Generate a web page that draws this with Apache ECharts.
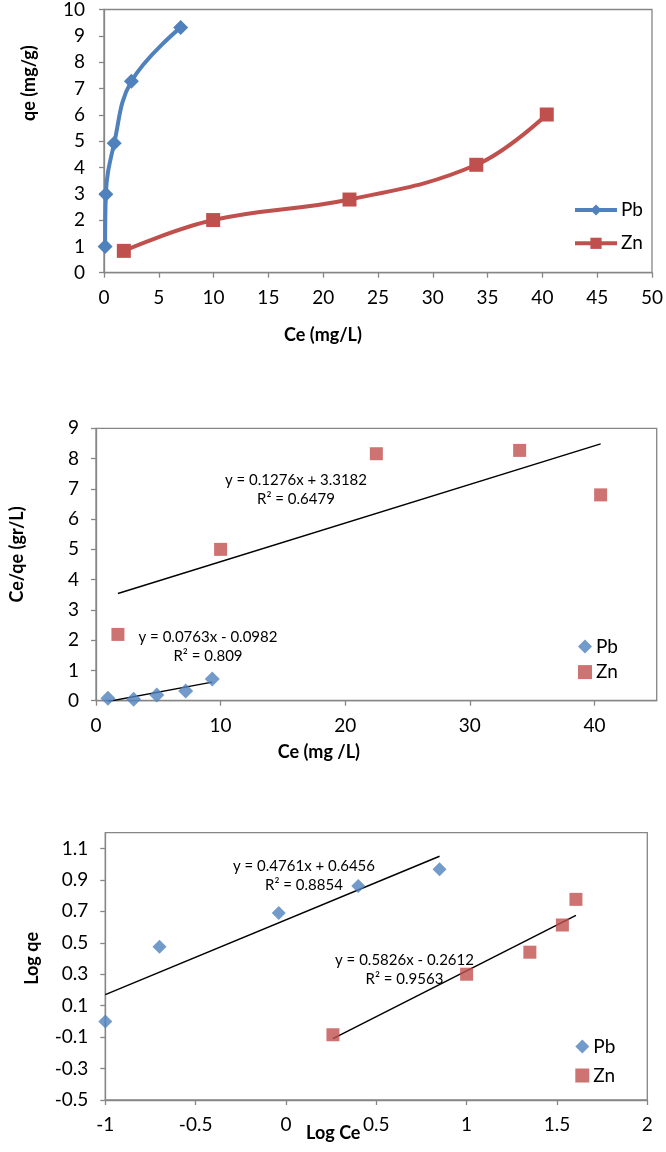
<!DOCTYPE html>
<html>
<head>
<meta charset="utf-8">
<script src="https://cdn.jsdelivr.net/npm/echarts@6/dist/echarts.min.js"></script>
<style>
html,body{margin:0;padding:0;background:#fff;}
#c{width:666px;height:1152px;}
</style>
</head>
<body>
<div id="c"></div>
<script>
// ---- Chart 1: qe vs Ce ----
const pbCe1 = [0.1, 0.17, 0.93, 2.5, 7.0];
const pbQe1 = [1.0, 2.98, 4.92, 7.27, 9.32];
const znCe1 = [1.81, 9.96, 22.4, 33.97, 40.4];
const znQe1 = [0.83, 2.0, 2.78, 4.1, 6.01];

// ---- Chart 2: Ce/qe ----
const pbX2 = [0.96, 3.02, 4.88, 7.2, 9.33];
const pbY2 = [0.08, 0.05, 0.19, 0.32, 0.72];
const znX2 = [1.76, 10.0, 22.5, 34.0, 40.5];
const znY2 = [2.19, 5.0, 8.16, 8.27, 6.8];
const pbTrend2 = [[0.96, -0.025], [9.33, 0.614]];
const znTrend2 = [[1.76, 3.543], [40.5, 8.486]];
const pbEq2 = ['y = 0.0763x - 0.0982', 'R² = 0.809'];
const znEq2 = ['y = 0.1276x + 3.3182', 'R² = 0.6479'];

// ---- Chart 3: Log qe vs Log Ce ----
const pbX3 = [-1.0, -0.70, -0.04, 0.40, 0.85];
const pbY3 = [0.0, 0.474, 0.69, 0.861, 0.968];
const znX3 = [0.26, 1.0, 1.35, 1.53, 1.605];
const znY3 = [-0.085, 0.30, 0.44, 0.613, 0.776];
const pbTrend3 = [[-1.0, 0.170], [0.85, 1.050]];
const znTrend3 = [[0.26, -0.110], [1.605, 0.674]];
const pbEq3 = ['y = 0.4761x + 0.6456', 'R² = 0.8854'];
const znEq3 = ['y = 0.5826x - 0.2612', 'R² = 0.9563'];

const legendNames = ['Pb', 'Zn'];
const titles = {
  x1: 'Ce (mg/L)', y1: 'qe (mg/g)',
  x2: 'Ce (mg /L)', y2: 'Ce/qe (gr/L)',
  x3: 'Log Ce', y3: 'Log qe'
};

const zip = (a, b) => a.map((v, i) => [v, b[i]]);
const FONT = 'Lato, "Open Sans", sans-serif';
const BLUE = '#4F81BD', RED = '#C0504D', GRAY = '#868686';
const TICK = 19, NAME = 18, LEG = 19, EQ = 15;

function nameStyle(pad) {
  return { color: '#000', fontFamily: FONT, fontSize: NAME, fontWeight: 'bold', padding: pad };
}
function labelStyle(extra) {
  return Object.assign({ color: '#000', fontFamily: FONT, fontSize: TICK }, extra);
}
function axisBase(o) {
  return Object.assign({
    type: 'value',
    nameMoveOverlap: false,
    splitLine: { show: false },
    axisLine: { show: true, onZero: false, lineStyle: { color: GRAY, width: 1.3 } },
    axisTick: { show: true, inside: false, length: 5, lineStyle: { color: GRAY, width: 1.3 } }
  }, o);
}

const chart = echarts.init(document.getElementById('c'), null, { renderer: 'canvas' });

function eqText(lines, x, y) {
  return {
    type: 'text', x: x, y: y,
    style: {
      text: lines.join('\n'), fill: '#000', font: EQ + 'px ' + FONT,
      textAlign: 'center', textVerticalAlign: 'middle', lineHeight: 19
    }
  };
}
function legend(names, left, top, w, h, gap, line) {
  const l = {
    data: names, orient: 'vertical', left: left, top: top, itemWidth: w, itemHeight: h, itemGap: gap,
    formatter: n => n.trim(), selectedMode: false,
    textStyle: { fontFamily: FONT, fontSize: LEG, color: '#000', padding: [0, 0, 0, -1] }
  };
  if (line) l.lineStyle = { width: 4 };
  return l;
}

const option = {
  backgroundColor: '#fff',
  animation: false,
  grid: [
    { left: 104, top: 8.5, right: 10, bottom: 879.3, show: true, borderColor: GRAY, borderWidth: 1.3 },
    { left: 92.3, top: 428.3, right: 9.3, bottom: 451.3, show: true, borderColor: GRAY, borderWidth: 1.3 },
    { left: 105.3, top: 832.7, right: 18.7, bottom: 52, show: true, borderColor: GRAY, borderWidth: 1.3 }
  ],
  xAxis: [
    axisBase({ gridIndex: 0, min: 0, max: 50, interval: 5,
      name: titles.x1, nameLocation: 'middle', nameGap: 53, nameTextStyle: nameStyle([0, 110, 0, 0]),
      axisLabel: labelStyle({ margin: 16 }) }),
    axisBase({ gridIndex: 1, min: 0, max: 45, interval: 10,
      name: titles.x2, nameLocation: 'middle', nameGap: 42, nameTextStyle: nameStyle([0, 115, 0, 0]),
      axisLabel: labelStyle({ margin: 16, showMaxLabel: false }) }),
    axisBase({ gridIndex: 2, min: -1, max: 2, interval: 0.5,
      name: titles.x3, nameLocation: 'middle', nameGap: 24, nameTextStyle: nameStyle([0, 86, 0, 0]),
      axisLabel: labelStyle({ margin: 15 }) })
  ],
  yAxis: [
    axisBase({ gridIndex: 0, min: 0, max: 10, interval: 1,
      name: titles.y1, nameLocation: 'middle', nameRotate: 90, nameGap: 66, nameTextStyle: nameStyle([0, 0, 0, 116]),
      axisLabel: labelStyle({ margin: 19 }) }),
    axisBase({ gridIndex: 1, min: 0, max: 9, interval: 1,
      name: titles.y2, nameLocation: 'middle', nameRotate: 90, nameGap: 70, nameTextStyle: nameStyle([0, 0, 0, 20]),
      axisLabel: labelStyle({ margin: 17 }) }),
    axisBase({ gridIndex: 2, min: -0.5, max: 1.2, interval: 0.2,
      name: titles.y3, nameLocation: 'middle', nameRotate: 90, nameGap: 64, nameTextStyle: nameStyle([0, 0, 0, 16]),
      axisLabel: labelStyle({ margin: 17, showMaxLabel: false,
        formatter: v => (Math.round(v * 10) / 10).toString() }) })
  ],
  legend: [
    legend(['Pb', 'Zn'], 568, 195.5, 42, 14, 14.3, true),
    legend(['Pb ', 'Zn '], 573, 632, 14, 14, 6.6, false),
    legend(['Pb  ', 'Zn  '], 570.3, 1032, 14, 14, 10, false)
  ],
  graphic: [
    eqText(znEq2, 296, 490),
    eqText(pbEq2, 208, 647),
    eqText(pbEq3, 304, 876),
    eqText(znEq3, 404.5, 970)
  ],
  series: [
    { name: 'Pb', type: 'line', xAxisIndex: 0, yAxisIndex: 0, data: zip(pbCe1, pbQe1),
      smooth: 0.4, symbol: 'diamond', symbolSize: 15, lineStyle: { color: BLUE, width: 4 },
      itemStyle: { color: BLUE } },
    { name: 'Zn', type: 'line', xAxisIndex: 0, yAxisIndex: 0, data: zip(znCe1, znQe1),
      smooth: 0.4, symbol: 'rect', symbolSize: 14, lineStyle: { color: RED, width: 4 },
      itemStyle: { color: RED } },

    { name: 'trend-pb2', type: 'line', xAxisIndex: 1, yAxisIndex: 1, data: pbTrend2, symbol: 'none',
      lineStyle: { color: '#000', width: 1.5 }, clip: true, silent: true, z: 1 },
    { name: 'trend-zn2', type: 'line', xAxisIndex: 1, yAxisIndex: 1, data: znTrend2, symbol: 'none',
      lineStyle: { color: '#000', width: 1.5 }, clip: true, silent: true, z: 1 },
    { name: 'Pb ', type: 'scatter', xAxisIndex: 1, yAxisIndex: 1, data: zip(pbX2, pbY2),
      symbol: 'diamond', symbolSize: 15, itemStyle: { color: BLUE }, clip: false, z: 3 },
    { name: 'Zn ', type: 'scatter', xAxisIndex: 1, yAxisIndex: 1, data: zip(znX2, znY2),
      symbol: 'rect', symbolSize: 13, itemStyle: { color: RED }, clip: false, z: 3 },

    { name: 'trend-pb3', type: 'line', xAxisIndex: 2, yAxisIndex: 2, data: pbTrend3, symbol: 'none',
      lineStyle: { color: '#000', width: 1.5 }, clip: true, silent: true, z: 1 },
    { name: 'trend-zn3', type: 'line', xAxisIndex: 2, yAxisIndex: 2, data: znTrend3, symbol: 'none',
      lineStyle: { color: '#000', width: 1.5 }, clip: true, silent: true, z: 1 },
    { name: 'Pb  ', type: 'scatter', xAxisIndex: 2, yAxisIndex: 2, data: zip(pbX3, pbY3),
      symbol: 'diamond', symbolSize: 14, itemStyle: { color: BLUE }, clip: false, z: 3 },
    { name: 'Zn  ', type: 'scatter', xAxisIndex: 2, yAxisIndex: 2, data: zip(znX3, znY3),
      symbol: 'rect', symbolSize: 13, itemStyle: { color: RED }, clip: false, z: 3 }
  ]
};
chart.setOption(option);
</script>
</body>
</html>
